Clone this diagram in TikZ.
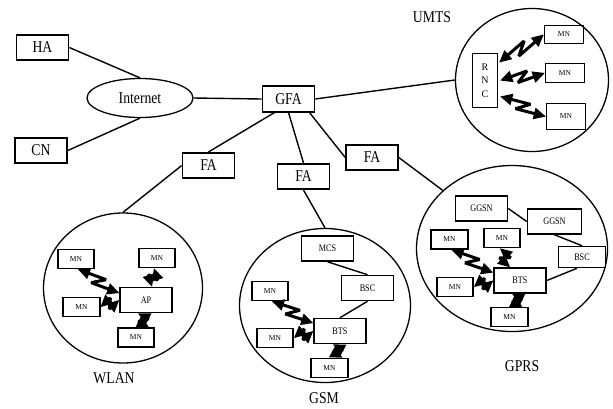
\documentclass[tikz,border=0pt]{standalone}
\usepackage{fontspec}
\setmainfont{Liberation Serif}
\newfontfamily\bigfont{Liberation Serif}[FakeStretch=0.83]
\newfontfamily\midfont{Liberation Serif}[FakeStretch=0.82]
\usetikzlibrary{shapes.geometric,calc}
\tikzset{
  big/.style={font=\bigfont\fontsize{16.5}{18}\selectfont},
  box/.style={draw, line width=1.6pt, inner sep=0pt, minimum width=52pt, minimum height=25.5pt, big},
  mbox/.style={draw, line width=1.6pt, inner sep=0pt, minimum width=52pt, minimum height=25pt, font=\midfont\fontsize{10}{11}\selectfont},
  mn/.style={draw, line width=1.6pt, inner sep=0pt, minimum width=36.5pt, minimum height=19pt, font=\fontsize{7.5}{8}\selectfont},
  net/.style={draw, ellipse, line width=1.3pt, inner sep=0pt},
  ln/.style={line width=1.4pt},
  wl/.style={line width=3pt, line join=bevel, shorten <=5pt, shorten >=5pt},
  wlhead/.style={fill=black},
}
\newcommand\wlink[2]{%
  \coordinate (wlP) at ($(#1)!0.62!(#2)!5pt!90:(#2)$);
  \coordinate (wlQ) at ($(#1)!0.38!(#2)!5pt!-90:(#2)$);
  \draw[wl] (#1) -- (wlP) -- (wlQ) -- (#2);
  \fill[wlhead] (#1) -- ($(#1)!12pt!(wlP)!6pt!90:(#1)$) -- ($(#1)!12pt!(wlP)!6pt!-90:(#1)$) -- cycle;
  \fill[wlhead] (#2) -- ($(#2)!12pt!(wlQ)!6pt!90:(#2)$) -- ($(#2)!12pt!(wlQ)!6pt!-90:(#2)$) -- cycle;
}
\begin{document}
\begin{tikzpicture}[x=1pt,y=-1pt]
\useasboundingbox (0,0) rectangle (613,408);
% clouds / areas
\node[net, minimum width=106pt, minimum height=39pt, big] (inet) at (140,98) {Internet};
\node[net, minimum width=153pt, minimum height=143pt] (umts) at (532,80) {};
\node[net, minimum width=159pt, minimum height=150pt] (wlan) at (123,288) {};
\node[net, minimum width=171pt, minimum height=154pt] (gsm) at (325,305.5) {};
\node[net, minimum width=191pt, minimum height=166pt] (gprs) at (512,248.5) {};
% area labels
\node[big] (lumts) at (432,17) {UMTS};
\node[big] (lwlan) at (114,378) {WLAN};
\node[big] (lgsm) at (324,398) {GSM};
\node[big] (lgprs) at (522,366) {GPRS};
% core nodes
\node[box] (ha) at (42.5,47.5) {HA};
\node[box] (cn) at (41,150.5) {CN};
\node[box] (gfa) at (288.5,99) {GFA};
\node[box] (fa1) at (208.5,165.5) {FA};
\node[box] (fa2) at (303.5,176.5) {FA};
\node[box] (fa3) at (372,157.5) {FA};
% core links
\draw[ln] (ha.east) -- (inet.north);
\draw[ln] (cn.east) -- (inet.south);
\draw[ln] (inet.east) -- (gfa.west);
\draw[ln] ($(gfa.south)+(-14,0)$) -- (fa1.north);
\draw[ln] (gfa.south) -- (fa2.north);
\draw[ln] ($(gfa.south)+(21,0)$) -- (fa3.west);
\draw[ln] (gfa.east) -- (umts.west);
\draw[ln] (fa1.west) -- (wlan.north);
\draw[ln] (fa2.south) -- (gsm.north);
\draw[ln] (fa3.east) -- (gprs.140);
% UMTS
\node[mbox, minimum width=25pt, minimum height=54pt, align=center, font=\fontsize{10}{13.5}\selectfont] (rnc) at (485,80.5) {R\\N\\C};
\node[mn, minimum width=39pt, minimum height=18pt] (umn1) at (564,34.5) {MN};
\node[mn, minimum width=39pt] (umn2) at (565,73) {MN};
\node[mn, minimum width=39pt, minimum height=26pt] (umn3) at (566,116.5) {MN};
\coordinate (u1a) at ($(rnc.east)+(1,-18)$);
\coordinate (u2a) at ($(rnc.east)+(2,0)$);
\coordinate (u3a) at ($(rnc.east)+(2,16)$);
\wlink{u1a}{umn1.west}
\wlink{u2a}{umn2.west}
\wlink{u3a}{umn3.west}
% WLAN
\node[mn] (wmn1) at (76,259) {MN};
\node[mn] (wmn2) at (157,258) {MN};
\node[mn] (wmn3) at (81.5,307) {MN};
\node[mbox] (ap) at (146,300) {AP};
\node[mn] (wmn4) at (136,337.5) {MN};
\coordinate (w1a) at ($(wmn1.south)+(2,0)$);
\coordinate (w1b) at ($(ap.west)+(0,-7)$);
\coordinate (w2a) at ($(wmn2.south)+(-3,0)$);
\coordinate (w2b) at ($(ap.north)+(6,0)$);
\coordinate (w4a) at ($(ap.south)+(-8,0)$);
\coordinate (w4b) at ($(wmn4.north)+(13,0)$);
\wlink{w1a}{w1b}
\wlink{wmn3.east}{ap.west}
\wlink{w2a}{w2b}
\wlink{w4a}{w4b}
% GSM
\node[mbox] (mcs) at (327.5,248.5) {MCS};
\node[mbox] (gbsc) at (367.5,288) {BSC};
\node[mn] (gmn1) at (270,291) {MN};
\node[mn] (gmn2) at (275,338) {MN};
\node[mbox] (bts) at (340,331) {BTS};
\node[mn] (gmn3) at (329.5,368) {MN};
\draw[ln] (mcs.south) -- (gbsc.north);
\draw[ln] (gbsc.south) -- (bts.north);
\coordinate (g1a) at ($(gmn1.south)+(2,0)$);
\coordinate (g1b) at ($(bts.west)+(0,-8)$);
\coordinate (g3a) at ($(bts.south)+(-7,0)$);
\coordinate (g3b) at ($(gmn3.north)+(13,0)$);
\wlink{g1a}{g1b}
\wlink{gmn2.east}{bts.west}
\wlink{g3a}{g3b}
% GPRS
\node[mbox] (ggsn1) at (481.5,208.5) {GGSN};
\node[mbox, minimum width=54pt] (ggsn2) at (554.5,221.5) {GGSN};
\node[mbox, minimum width=47pt, minimum height=21pt] (pbsc) at (582,257) {BSC};
\node[mn] (pmn1) at (449.5,239.5) {MN};
\node[mn] (pmn2) at (502,238) {MN};
\node[mn] (pmn3) at (455,287) {MN};
\node[mbox] (pbts) at (520,280.5) {BTS};
\node[mn] (pmn4) at (509.5,317) {MN};
\draw[ln] (ggsn1.east) -- (ggsn2.west);
\draw[ln] (ggsn2.south) -- (pbsc.north);
\coordinate (pb) at ($(pbsc.south)+(-5,0)$);
\draw[ln] (pbts.east) -- (pb);
\coordinate (p1a) at ($(pmn1.south)+(2,0)$);
\coordinate (p1b) at ($(pbts.west)+(0,-8)$);
\coordinate (p2a) at ($(pmn2.south)+(-2,0)$);
\coordinate (p2b) at ($(pbts.north)+(-10,0)$);
\coordinate (p4a) at ($(pbts.south)+(-8,0)$);
\coordinate (p4b) at ($(pmn4.north)+(13,0)$);
\wlink{p1a}{p1b}
\wlink{pmn3.east}{pbts.west}
\wlink{p2a}{p2b}
\wlink{p4a}{p4b}
\end{tikzpicture}
\end{document}
